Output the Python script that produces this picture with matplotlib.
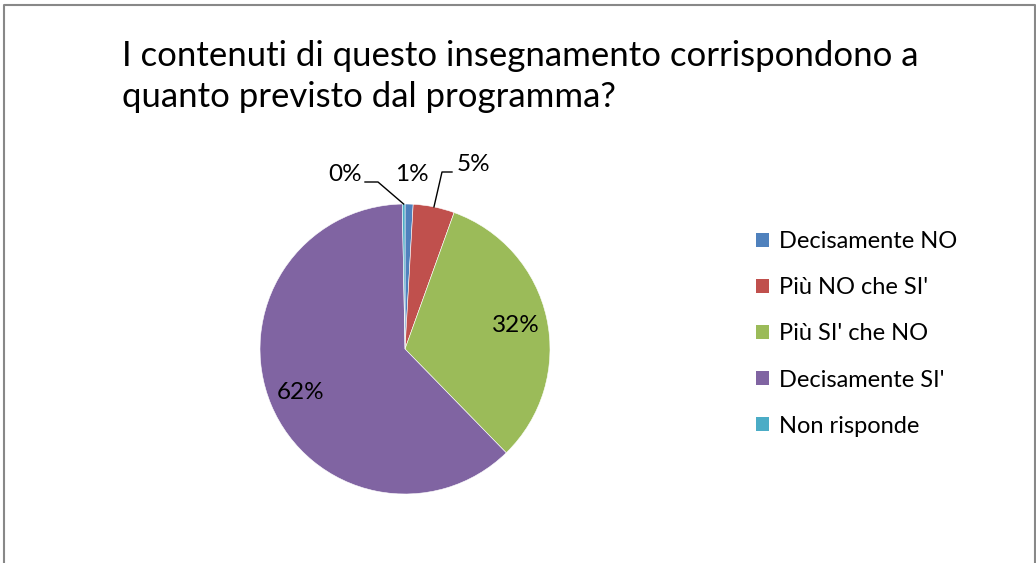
import numpy as np
import matplotlib.pyplot as plt
from matplotlib.patches import Patch

plt.rcParams['font.family'] = ['Lato', 'DejaVu Sans']

# dati (percentuali)
categories = ['Decisamente NO', "Più NO che SI'", "Più SI' che NO", "Decisamente SI'", 'Non risponde']
values = [0.9, 4.6, 32.2, 62.0, 0.3]
colors = ['#4F81BD', '#C0504D', '#9BBB59', '#8064A2', '#4BACC6']
title_lines = ['I contenuti di questo insegnamento corrispondono a',
               'quanto previsto dal programma?']

W, H = 1036, 563
fig = plt.figure(figsize=(W / 100, H / 100), dpi=100)
ax = fig.add_axes([0, 0, 1, 1])

def fy(y):
    return H - y

cx, cy, R = 405, fy(349), 145
wedges, _ = ax.pie(values, colors=colors, startangle=90, counterclock=False,
                   center=(cx, cy), radius=R, frame=True,
                   wedgeprops={'edgecolor': 'white', 'linewidth': 0.4})
ax.set_xlim(0, W)
ax.set_ylim(0, H)
ax.set_aspect('equal')
ax.axis('off')

pcts = ['%d%%' % round(v) for v in values]
fs_lab = 17.5

# etichette interne per le fette grandi
for w, p, v in zip(wedges, pcts, values):
    if v < 10:
        continue
    mid = np.deg2rad((w.theta1 + w.theta2) / 2)
    r = 0.78 * R
    ax.text(cx + r * np.cos(mid), cy + r * np.sin(mid), p, fontsize=fs_lab,
            ha='center', va='center')

def arc_point(w):
    mid = np.deg2rad((w.theta1 + w.theta2) / 2)
    return cx + R * np.cos(mid), cy + R * np.sin(mid)

# Non risponde (0%)
x0, y0 = arc_point(wedges[4])
ax.plot([x0, 378, 365], [y0, fy(182), fy(182)], color='black', lw=1)
ax.text(362, fy(181), pcts[4], fontsize=fs_lab, ha='right', va='baseline')
# Decisamente NO (1%)
ax.text(412, fy(181), pcts[0], fontsize=fs_lab, ha='center', va='baseline')
# Più NO che SI' (5%)
x1, y1 = arc_point(wedges[1])
ax.plot([x1, 442, 452], [y1, fy(172), fy(172)], color='black', lw=1)
ax.text(457, fy(171), pcts[1], fontsize=fs_lab, ha='left', va='baseline')

# titolo
ax.text(122, fy(66), title_lines[0], fontsize=25, ha='left', va='baseline')
ax.text(122, fy(107), title_lines[1], fontsize=25, ha='left', va='baseline')

# legenda
handles = [Patch(facecolor=c, edgecolor='none') for c in colors]
fig.legend(handles, categories, loc='upper left', bbox_to_anchor=(747 / W, 1 - 222 / H),
           frameon=False, fontsize=17, handlelength=0.55, handleheight=0.55,
           handletextpad=0.4, labelspacing=1.06, borderaxespad=0)

# bordo del grafico
ax.plot([3.5, 3.5, 1034.5, 1034.5], [0, fy(5), fy(5), 0], color='#888888', lw=1.5,
        clip_on=False)

fig.savefig('out.png', dpi=100)
